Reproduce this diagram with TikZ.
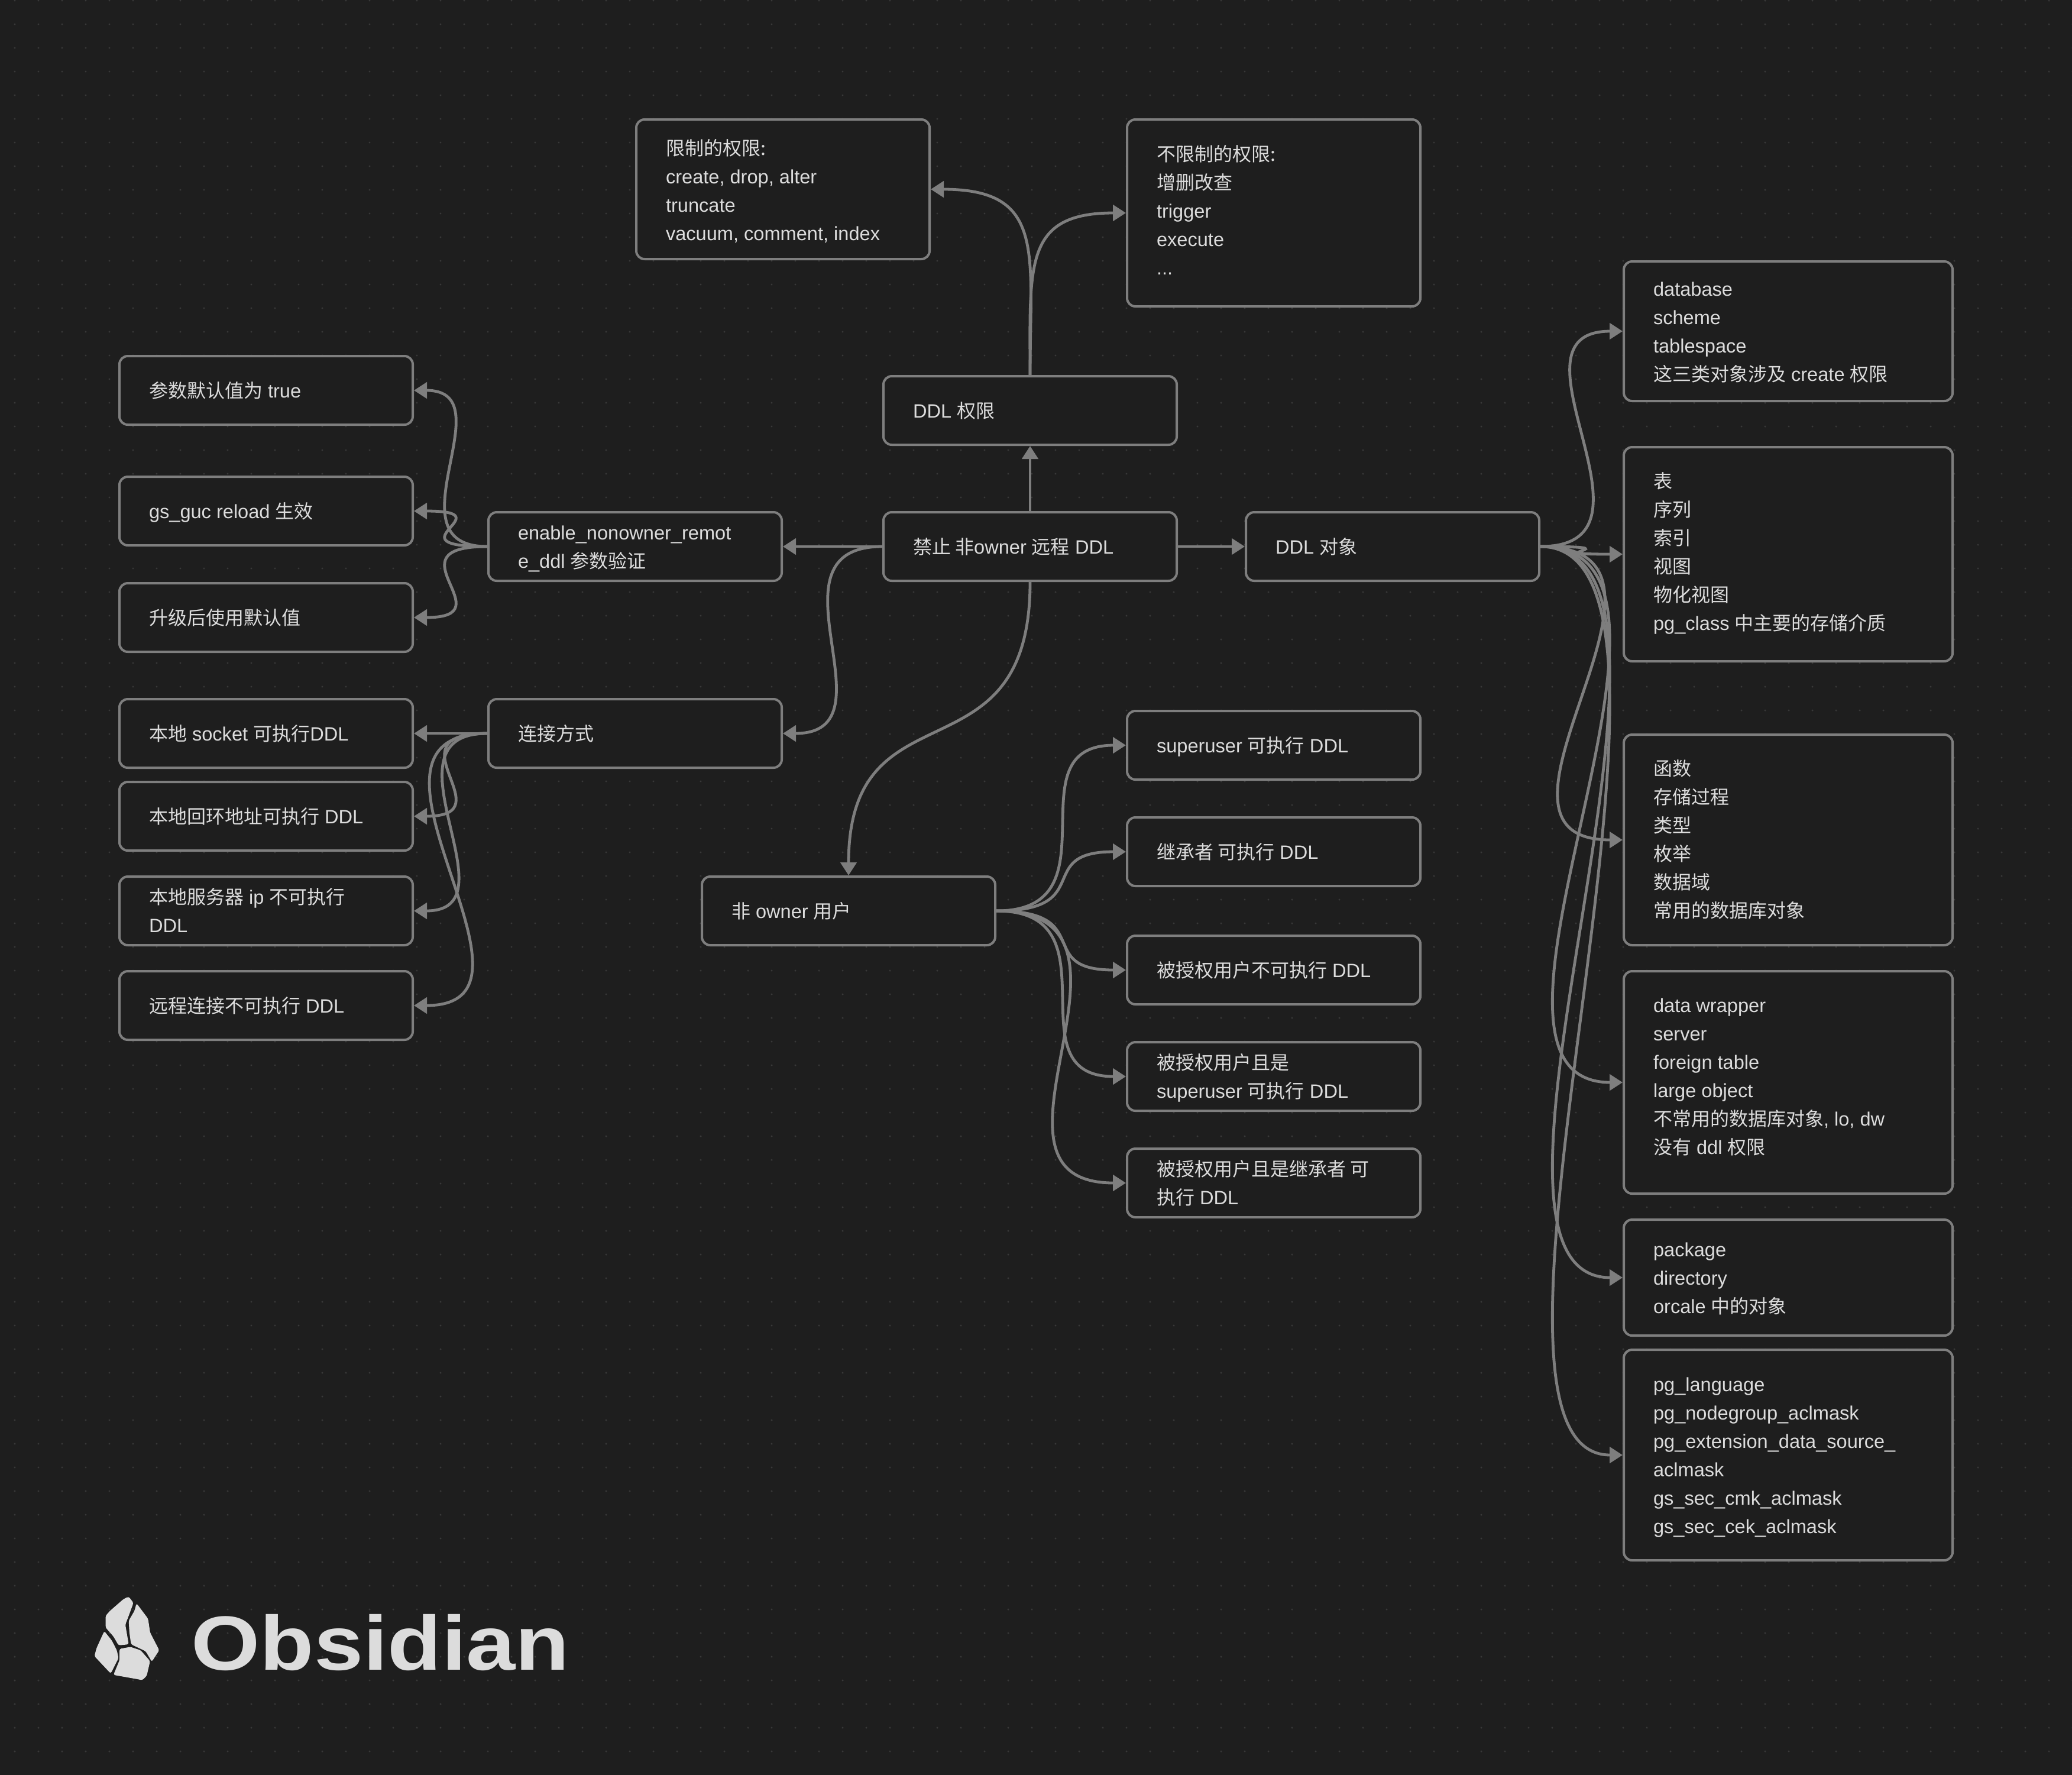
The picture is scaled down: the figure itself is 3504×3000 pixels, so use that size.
\documentclass[tikz,border=0pt]{standalone}
\usepackage{fontspec}
\usepackage{graphicx}
\usetikzlibrary{arrows.meta}
\setmainfont{Liberation Sans}[Scale=1.018]
\newfontfamily\cjkfam{Noto Sans CJK SC}
\newfontfamily\logofam{Liberation Sans}
\newcommand{\C}[1]{{\cjkfam #1}}
\definecolor{bgc}{HTML}{1E1E1E}
\definecolor{dotc}{HTML}{383838}
\definecolor{linec}{HTML}{7E7E7E}
\definecolor{textc}{HTML}{DCDCDC}
\tikzset{
  boxnode/.style={draw=linec,fill=bgc,line width=2pt,rounded corners=7pt,text=textc,inner xsep=25pt,inner ysep=0pt,font=\fontsize{16pt}{24pt}\selectfont},
  link/.style={draw=linec,line width=2.4pt,-{Triangle[length=11pt,width=13.5pt]}},
}
% name, x1, y1, x2, y2, first baseline, text (reference pixels)
\newcommand{\nd}[7]{%
  \pgfmathsetmacro\ndw{(#4-#2)*0.5-50}%
  \pgfmathsetmacro\ndr{((#3+#5)/2-#6)*0.5}%
  \node[boxnode,minimum width={(#4-#2)*0.5pt},minimum height={(#5-#3)*0.5pt}] (#1) at ({(#2+#4)/2},{(#3+#5)/2})
    {\smash{\raisebox{\ndr pt}{\parbox[t]{\ndw pt}{\raggedright\setlength{\baselineskip}{24pt}#7}}}};%
}
\begin{document}
\begin{tikzpicture}[x=0.5pt,y=-0.5pt]
\useasboundingbox (0,0) rectangle (3504,3000);
\fill[bgc] (-10,-10) rectangle (3514,3010);
\foreach \i in {0,...,87}{\foreach \j in {0,...,74}{\fill[dotc] ({25+40*\i},{1+40*\j}) circle (0.85pt);}}

\nd{limit}{1076}{202}{1572}{438}{262}{\C{限制的权限:}\\create, drop, alter\\truncate\\vacuum, comment, index}
\nd{nolimit}{1906}{202}{2402}{518}{272}{\C{不限制的权限:}\\\C{增删改查}\\trigger\\execute\\...}
\nd{perm}{1494}{636}{1990}{752}{706}{DDL \C{权限}}
\nd{ban}{1494}{866}{1990}{982}{936}{\C{禁止 非}owner \C{远程} DDL}
\nd{enable}{826}{866}{1322}{982}{912}{enable\_nonowner\_remot\\e\_ddl \C{参数验证}}
\nd{obj}{2107}{866}{2603}{982}{936}{DDL \C{对象}}
\nd{pdef}{202}{602}{698}{718}{672}{\C{参数默认值为} true}
\nd{reload}{202}{806}{698}{922}{876}{gs\_guc reload \C{生效}}
\nd{upg}{202}{986}{698}{1102}{1056}{\C{升级后使用默认值}}
\nd{conn}{826}{1182}{1322}{1298}{1252}{\C{连接方式}}
\nd{sock}{202}{1182}{698}{1298}{1252}{\C{本地} socket \C{可执行}DDL}
\nd{loop}{202}{1322}{698}{1438}{1392}{\C{本地回环地址可执行} DDL}
\nd{srv}{202}{1482}{698}{1598}{1528}{\C{本地服务器} ip \C{不可执行}\\DDL}
\nd{remote}{202}{1642}{698}{1758}{1712}{\C{远程连接不可执行} DDL}
\nd{nonown}{1187}{1482}{1683}{1598}{1552}{\C{非} owner \C{用户}}
\nd{su}{1906}{1202}{2402}{1318}{1272}{superuser \C{可执行} DDL}
\nd{inh}{1906}{1382}{2402}{1498}{1452}{\C{继承者 可执行} DDL}
\nd{gr}{1906}{1582}{2402}{1698}{1652}{\C{被授权用户不可执行} DDL}
\nd{grsu}{1906}{1762}{2402}{1878}{1808}{\C{被授权用户且是}\\superuser \C{可执行} DDL}
\nd{grinh}{1906}{1942}{2402}{2058}{1988}{\C{被授权用户且是继承者 可}\\\C{执行} DDL}
\nd{db}{2746}{442}{3302}{678}{500}{database\\scheme\\tablespace\\\C{这三类对象涉及} create \C{权限}}
\nd{tbl}{2746}{756}{3302}{1118}{825}{\C{表}\\\C{序列}\\\C{索引}\\\C{视图}\\\C{物化视图}\\pg\_class \C{中主要的存储介质}}
\nd{func}{2746}{1242}{3302}{1598}{1311}{\C{函数}\\\C{存储过程}\\\C{类型}\\\C{枚举}\\\C{数据域}\\\C{常用的数据库对象}}
\nd{wrap}{2746}{1642}{3302}{2018}{1711}{data wrapper\\server\\foreign table\\large object\\\C{不常用的数据库对象}, lo, dw\\\C{没有} ddl \C{权限}}
\nd{pack}{2746}{2062}{3302}{2258}{2124}{package\\directory\\orcale \C{中的对象}}
\nd{pgl}{2746}{2282}{3302}{2638}{2352}{pg\_language\\pg\_nodegroup\_aclmask\\pg\_extension\_data\_source\_\\aclmask\\gs\_sec\_cmk\_aclmask\\gs\_sec\_cek\_aclmask}

\draw[link] (ban.north) -- (perm.south);
\draw[link] (ban.west) -- (enable.east);
\draw[link] (ban.east) -- (obj.west);
\draw[link] (conn.west) -- (sock.east);
\draw[link] (perm.north) .. controls +(0,-208) and +(195,0) .. (limit.east);
\draw[link] (perm.north) .. controls +(0,-186) and +(-173,0) .. (nolimit.west);
\draw[link] (enable.west) .. controls +(-171,0) and +(158,0) .. (pdef.east);
\draw[link] (enable.west) .. controls +(-171,0) and +(158,0) .. (reload.east);
\draw[link] (enable.west) .. controls +(-171,0) and +(158,0) .. (upg.east);
\draw[link] (conn.west) .. controls +(-171,0) and +(158,0) .. (loop.east);
\draw[link] (conn.west) .. controls +(-189,0) and +(176,0) .. (srv.east);
\draw[link] (conn.west) .. controls +(-272,0) and +(259,0) .. (remote.east);
\draw[link] (ban.west) .. controls +(-209,0) and +(196,0) .. (conn.east);
\draw[link] (ban.south) .. controls +(0,345) and +(0,-332) .. (nonown.north);
\draw[link] (nonown.east) .. controls +(209,0) and +(-196,0) .. (su.west);
\draw[link] (nonown.east) .. controls +(171,0) and +(-158,0) .. (inh.west);
\draw[link] (nonown.east) .. controls +(171,0) and +(-158,0) .. (gr.west);
\draw[link] (nonown.east) .. controls +(209,0) and +(-196,0) .. (grsu.west);
\draw[link] (nonown.east) .. controls +(300,0) and +(-287,0) .. (grinh.west);
\draw[link] (obj.east) .. controls +(228,0) and +(-215,0) .. (db.west);
\draw[link] (obj.east) .. controls +(171,0) and +(-158,0) .. (tbl.west);
\draw[link] (obj.east) .. controls +(303,0) and +(-290,0) .. (func.west);
\draw[link] (obj.east) .. controls +(333,0) and +(-320,0) .. (wrap.west);
\draw[link] (obj.east) .. controls +(333,0) and +(-320,0) .. (pack.west);
\draw[link] (obj.east) .. controls +(333,0) and +(-320,0) .. (pgl.west);

% logo
\begin{scope}[shift={(100,2600)},x=0.287pt,y=-0.1667pt]
\fill[textc,rounded corners=1.5pt] (205,298) -- (219,330) -- (205,395) -- (195,440) -- (200,490) -- (205,540) -- (175,545) -- (160,500) -- (137,455) -- (137,395) -- (150,370) -- (190,310) -- cycle;
\fill[textc,rounded corners=1.5pt] (228,332) -- (262,410) -- (268,480) -- (295,570) -- (273,628) -- (255,575) -- (212,540) -- (207,480) -- (205,420) -- (222,370) -- cycle;
\fill[textc,rounded corners=1.5pt] (133,473) -- (155,520) -- (170,570) -- (175,610) -- (152,688) -- (104,600) -- (110,560) -- cycle;
\fill[textc,rounded corners=1.5pt] (178,563) -- (210,553) -- (240,570) -- (268,625) -- (262,670) -- (258,700) -- (245,722) -- (235,718) -- (160,695) -- (178,620) -- cycle;
\end{scope}
\node[anchor=base west,inner sep=0pt,text=textc] (logo) at (323,2823) {\scalebox{1.15}[1]{\logofam\bfseries\fontsize{65pt}{65pt}\selectfont Obsidian}};
\end{tikzpicture}
\end{document}
